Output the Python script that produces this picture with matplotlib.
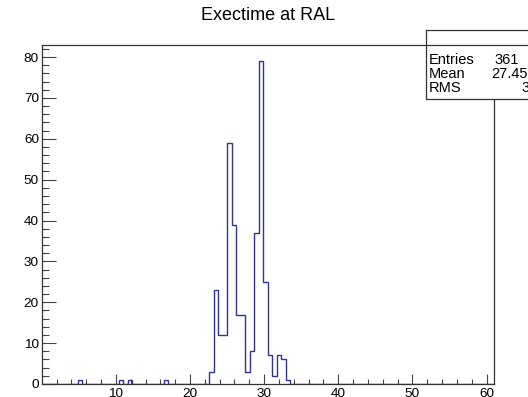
import numpy as np
import matplotlib.pyplot as plt

plt.rcParams['font.family'] = ['Liberation Sans', 'DejaVu Sans']

# histogram: 100 bins from 0 to 61, only the filled bins listed
n_bins = 100
x_min, x_max = 0.0, 61.0
filled_bins = [8, 17, 19, 27, 37, 38, 39, 40, 41, 42, 43, 44, 45, 46, 47, 48,
               49, 50, 51, 52, 53, 54]
filled_counts = [1, 1, 1, 1, 3, 23, 12, 12, 59, 39, 17, 17, 3, 8, 37, 79,
                 25, 7, 2, 7, 6, 1]

title = "Exectime at RAL"
stat_labels = ["Entries", "Mean", "RMS"]
stat_values = ["361", "27.45", "3.036"]

counts = np.zeros(n_bins)
counts[filled_bins] = filled_counts
edges = np.linspace(x_min, x_max, n_bins + 1)

W, H = 528, 397
fig = plt.figure(figsize=(W / 100, H / 100), dpi=100)
ax = fig.add_axes([41.7 / W, 1 - 384 / H, (494 - 41.7) / W, (384 - 45) / H])

ax.stairs(counts, edges, color='#333399', lw=1.0)
ax.set_xlim(x_min, x_max)
ax.set_ylim(0, counts.max() * 1.05)

ax.set_xticks(np.arange(10, 61, 10))
ax.set_xticks(np.arange(2, 61, 2), minor=True)
ax.set_yticks(np.arange(0, 81, 10))
ax.set_yticks(np.arange(0, 83, 2), minor=True)

ax.tick_params(axis='x', which='major', direction='in', length=7, width=0.8, labelsize=9.7, pad=3, colors='#444444', labelcolor='black')
ax.tick_params(axis='x', which='minor', direction='in', length=3.6, width=0.8, colors='#444444')
ax.tick_params(axis='y', which='major', direction='in', length=10, width=0.8, labelsize=9.7, pad=2, colors='#444444', labelcolor='black')
ax.tick_params(axis='y', which='minor', direction='in', length=5, width=0.8, colors='#444444')
for s in ax.spines.values():
    s.set_linewidth(0.9)
    s.set_color('#333333')

fig.text(268 / W, 1 - 15 / H, title, ha='center', va='center', fontsize=13)

# stats box, running off the right edge like the original
bx0, by_top, by_div, by_bot = 426 / W, 1 - 30 / H, 1 - 45 / H, 1 - 98.5 / H
sax = fig.add_axes([bx0, by_bot, 1.0 - bx0, by_top - by_bot], zorder=5)
sax.set_xlim(0, 1)
sax.set_ylim(by_bot, by_top)
sax.set_xticks([])
sax.set_yticks([])
sax.spines['right'].set_visible(False)
for s in ['left', 'top', 'bottom']:
    sax.spines[s].set_linewidth(0.9)
    sax.spines[s].set_color('#333333')
sax.axhline(by_div, color='#333333', lw=0.9)

row_y = [60, 74, 88]
val_x = [494.3, 491.7, 521]
for lab, val, y, vx in zip(stat_labels, stat_values, row_y, val_x):
    fig.text(429 / W, 1 - y / H, lab, ha='left', va='center', fontsize=10.5, zorder=7)
    fig.text(vx / W, 1 - y / H, val, ha='left', va='center', fontsize=10.5, zorder=7)

fig.savefig("out.png", dpi=100)
